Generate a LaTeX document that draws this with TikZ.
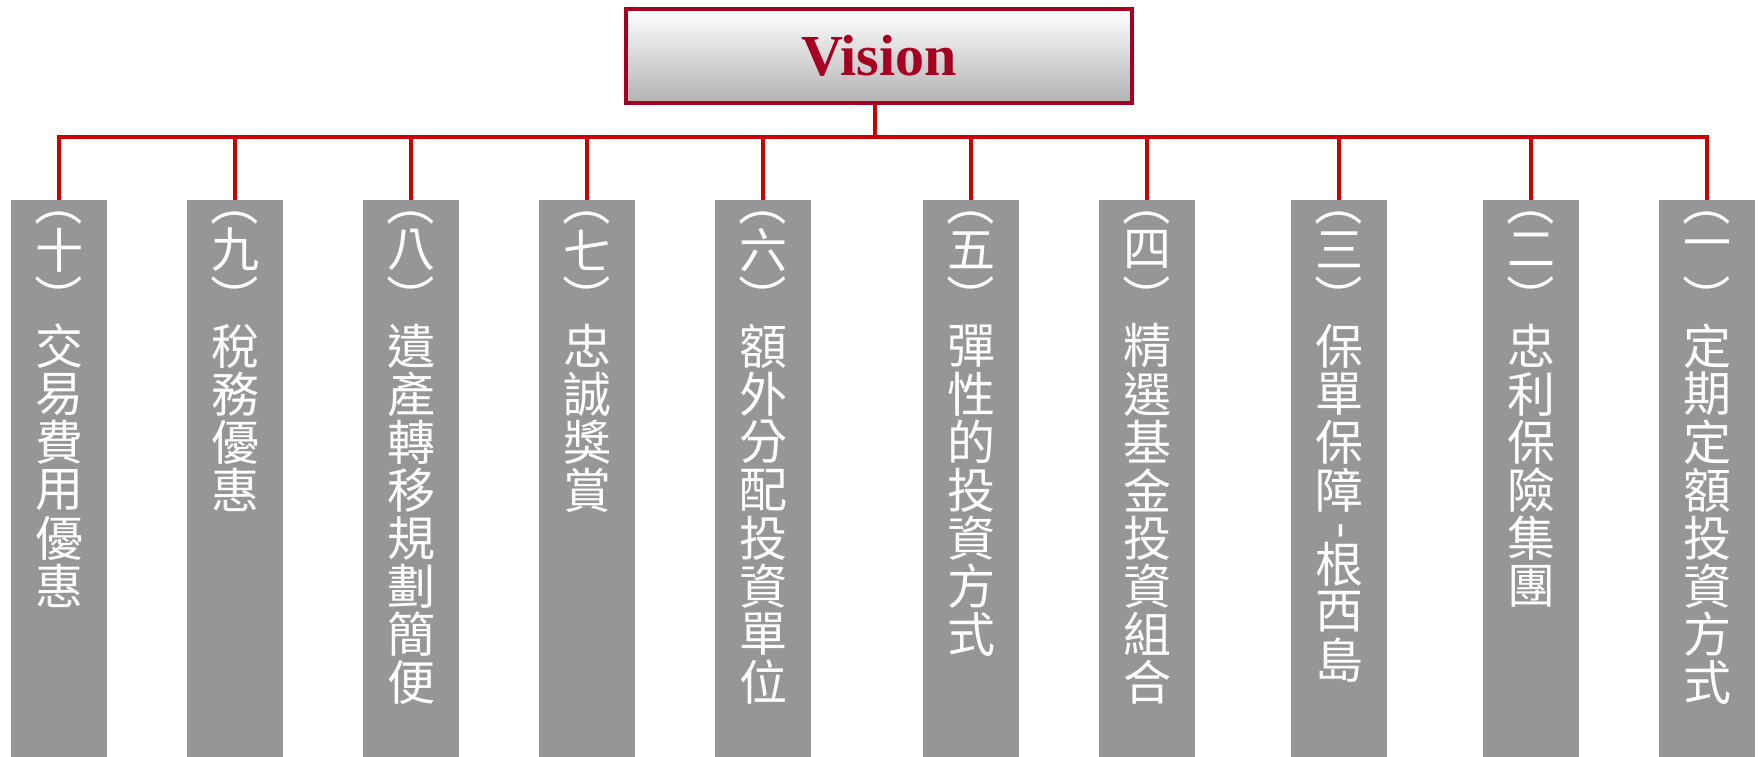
\documentclass[tikz,border=0pt]{standalone}
\usepackage{fontspec}
\setmainfont{Liberation Serif}
\newfontfamily\cjk{Noto Sans CJK TC}
\definecolor{linered}{RGB}{204,0,0}
\definecolor{visred}{RGB}{165,0,33}
\definecolor{colgray}{RGB}{150,150,150}
\definecolor{visbot}{RGB}{178,178,178}
\newcommand\lpar{\rotatebox[origin=c]{-90}{（}}
\newcommand\rpar{\rotatebox[origin=c]{-90}{）}}
\newcommand\coltext[4]{%
  \foreach \vchar [count=\j from 0] in {#4} {%
    \node[ch] (t#1-\j) at (#2, #3+48*\j+24) {\vchar};}}
\begin{document}
\begin{tikzpicture}[x=1pt,y=-1pt,
  conn/.style={draw=linered,line width=4pt,line join=miter},
  vision/.style={draw=visred,line width=3.5pt,top color=white,bottom color=visbot,
    minimum width=506pt,minimum height=94pt,inner sep=0pt,
    font=\bfseries\fontsize{58}{58}\selectfont,text=visred},
  colbox/.style={fill=colgray,draw=none,minimum width=96pt,minimum height=557pt,
    inner sep=0pt,anchor=north west},
  ch/.style={text=white,inner sep=0pt,font=\cjk\fontsize{48}{48}\selectfont}]
\useasboundingbox (0,0) rectangle (1758,757);

\node[vision] (vision) at (879,56) {Vision};

\foreach \l [count=\i] in {11,187,363,539,715,923,1099,1291,1483,1659}
  \node[colbox] (b\i) at (\l,200) {};

\coordinate (bus) at (0,137);
\draw[conn] ([xshift=-4pt]vision.south) -- ([xshift=-4pt]vision.south |- bus);
\draw[conn] (b1.north) -- (b1.north |- bus) -- (b10.north |- bus) -- (b10.north);
\foreach \i in {2,...,9}
  \draw[conn] (b\i.north |- bus) -- (b\i.north);

\coltext{1}{59}{178}{\lpar,十,\rpar,交,易,費,用,優,惠}
\coltext{2}{235}{178}{\lpar,九,\rpar,稅,務,優,惠}
\coltext{3}{411}{178}{\lpar,八,\rpar,遺,產,轉,移,規,劃,簡,便}
\coltext{4}{587}{178}{\lpar,七,\rpar,忠,誠,獎,賞}
\coltext{5}{763}{178}{\lpar,六,\rpar,額,外,分,配,投,資,單,位}
\coltext{6}{971}{178}{\lpar,五,\rpar,彈,性,的,投,資,方,式}
\coltext{7}{1147}{178}{\lpar,四,\rpar,精,選,基,金,投,資,組,合}
\coltext{8}{1339}{178}{\lpar,三,\rpar,保,單,保,障}
\node[ch,rotate=-90,anchor=base] (hy) at (1327,531) {-};
\coltext{8b}{1339}{540}{根,西,島}
\coltext{9}{1531}{178}{\lpar,二,\rpar,忠,利,保,險,集,團}
\coltext{10}{1707}{178}{\lpar,一,\rpar,定,期,定,額,投,資,方,式}
\end{tikzpicture}
\end{document}
